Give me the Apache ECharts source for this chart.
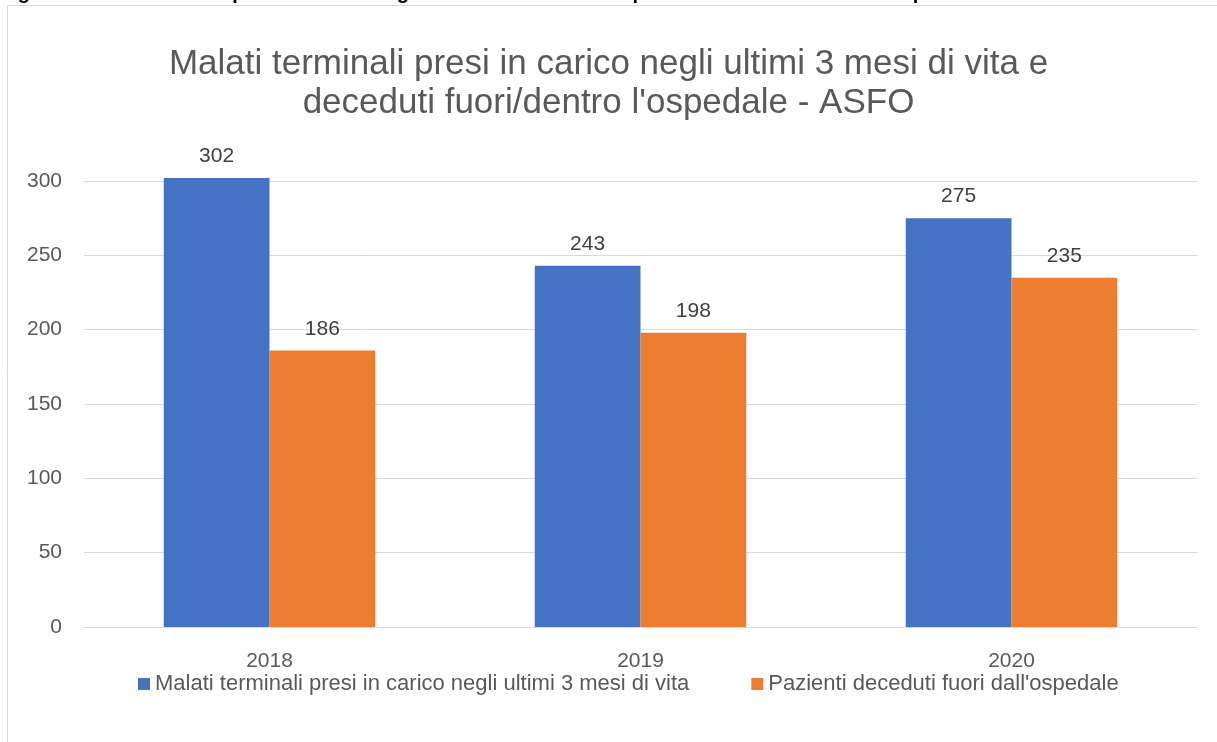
<!DOCTYPE html>
<html>
<head>
<meta charset="utf-8">
<script src="https://cdn.jsdelivr.net/npm/echarts@6/dist/echarts.min.js"></script>
<style>
  html, body { margin: 0; padding: 0; background: #fff; }
  #main { width: 1217px; height: 742px; }
</style>
</head>
<body>
<div id="main"></div>
<script>
const CATEGORIES = ['2018', '2019', '2020'];
const SERIES_NAMES = ['Malati terminali presi in carico negli ultimi 3 mesi di vita', "Pazienti deceduti fuori dall'ospedale"];
const MALATI_TERMINALI = [302, 243, 275];
const DECEDUTI_FUORI = [186, 198, 235];
const Y_TICKS = [0, 50, 100, 150, 200, 250, 300];

const FONT = '"Liberation Sans", "DejaVu Sans", sans-serif';
const BLUE = '#4472c4';
const ORANGE = '#ed7d31';

let chart = echarts.init(document.getElementById('main'));

// etichetta comune per i valori sopra le barre
function barLabel(){
	return {
		show: true,
		position: 'top',
		distance: 11,
		color: '#404040',
		fontFamily: FONT,
		fontSize: 21
	};
}

let option = {
	backgroundColor: '#fff',
	animation: false,
	title: {
		text: "Malati terminali presi in carico negli ultimi 3 mesi di vita e\ndeceduti fuori/dentro l'ospedale - ASFO",
		left: 'center',
		top: 40,
		textStyle: {
			color: '#595959',
			fontFamily: FONT,
			fontWeight: 'normal',
			fontSize: 35,
			lineHeight: 39
		}
	},
	graphic: [
		{
			type: 'rect',
			shape: { x: 7.5, y: 5.5, width: 1230, height: 760 },
			style: { fill: null, stroke: '#d9d9d9', lineWidth: 1 },
			silent: true
		},
		{
			type: 'text',
			left: 0,
			top: -17,
			style: {
				text: "Fig. 22 - Malati terminali presi in carico negli ultimi 3 mesi di vita e pazienti deceduti fuori dall'ospedale \u2013 ASFO",
				fill: '#000',
				font: 'bold 20px ' + FONT
			}
		}
	],
	legend: {
		top: 668,
		left: 133,
		itemWidth: 12,
		itemHeight: 12,
		itemGap: 62,
		icon: 'rect',
		textStyle: {
			color: '#595959',
			fontFamily: FONT,
			fontSize: 22
		},
		data: SERIES_NAMES
	},
	grid: {
		left: 84,
		right: 20,
		top: 181,
		bottom: 115,
		containLabel: false
	},
	xAxis: {
		type: 'category',
		data: CATEGORIES,
		axisLine: { lineStyle: { color: '#d9d9d9' } },
		axisTick: { show: false },
		axisLabel: {
			color: '#595959',
			fontFamily: FONT,
			fontSize: 21,
			margin: 24
		}
	},
	yAxis: {
		type: 'value',
		min: Y_TICKS[0],
		max: Y_TICKS[Y_TICKS.length - 1],
		interval: 50,
		axisLine: { show: false },
		axisTick: { show: false },
		splitLine: { lineStyle: { color: '#d9d9d9' } },
		axisLabel: {
			color: '#595959',
			fontFamily: FONT,
			fontSize: 21,
			margin: 22
		}
	},
	series: [
		{
			name: SERIES_NAMES[0],
			type: 'bar',
			data: MALATI_TERMINALI,
			itemStyle: { color: BLUE },
			barGap: '0%',
			barCategoryGap: '43%',
			clip: false,
			label: barLabel()
		},
		{
			name: SERIES_NAMES[1],
			type: 'bar',
			data: DECEDUTI_FUORI,
			itemStyle: { color: ORANGE },
			clip: false,
			label: barLabel()
		}
	]
};

chart.setOption(option);
</script>
</body>
</html>
